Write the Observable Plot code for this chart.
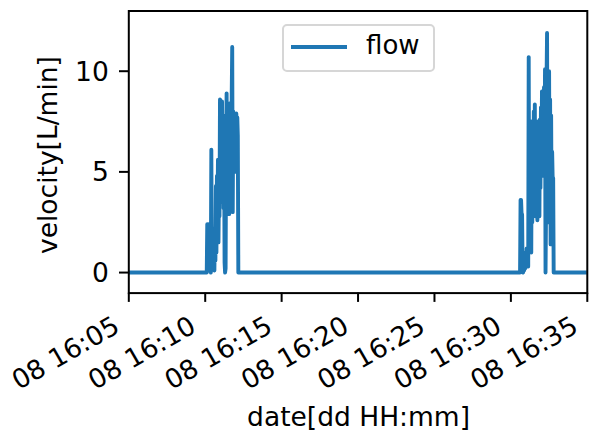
<!DOCTYPE html>
<html><head><meta charset="utf-8">
<script src="https://cdn.jsdelivr.net/npm/d3@7"></script>
<script src="https://cdn.jsdelivr.net/npm/@observablehq/plot@0.6"></script>
<style>
html,body{margin:0;padding:0;background:#fff;}
#wrap{position:relative;width:589px;height:432px;}
#legend{position:absolute;box-sizing:border-box;border:2px solid #d6d6d6;border-radius:5px;background:rgba(255,255,255,0.8);font-family:"DejaVu Sans";font-size:26px;color:#000;}
#legend .sw{position:absolute;height:4px;background:#1f77b4;}
#legend .lb{position:absolute;line-height:1;}
</style></head><body><div id="wrap"></div>
<script>
// sample times in seconds after 08 16:05:00, and flow values [L/min]
const startSeconds = [0];
const startValues = [0];
const burst1Seconds = [300,306,308,310,312,314,316,318,320,322,324,326,328,330,332,334,336,338,340,342,344,346,348,350,352,354,356,358,360,362,364,366,368,370,372,374,376,378,380,382,384,386,388,390,392,394,396,398,400,402,404,406,408,410,412,414,416,418,420,422,424,426,428,430,432];
const burst1Values = [0,0,2.4,0.3,2.4,0.2,0.1,0.2,0.1,0,6.1,0.2,0.4,0.2,0.8,0.3,0.1,2.2,0.6,4.3,1.0,4.8,2.5,5.6,1.5,4.2,2.8,8.6,3.5,7.2,5.0,8.5,4.0,7.8,3.2,6.5,0.5,0,0.2,6.0,8.9,3.0,8.2,4.5,7.5,2.9,8.4,5.5,7.0,3.2,8.8,11.2,3.0,8.0,5.5,7.9,6.0,7.6,5.0,7.9,7.2,7.7,6.8,0,0];
const burst2Seconds = [1530,1536,1538,1540,1542,1544,1546,1548,1550,1552,1554,1556,1558,1560,1562,1564,1566,1568,1570,1572,1574,1576,1578,1580,1582,1584,1586,1588,1590,1592,1594,1596,1598,1600,1602,1604,1606,1608,1610,1612,1614,1616,1618,1620,1622,1624,1626,1628,1630,1632,1634,1636,1638,1640,1642,1644,1646,1648,1650,1652,1654,1656,1658,1660,1662,1664,1666,1668,1670];
const burst2Values = [0,0,3.6,3.6,2.9,2.9,0.1,0,0.2,0.1,0.3,0.2,1.0,0.4,1.2,0.3,0.9,0.3,10.7,1.2,6.0,1.3,5.5,1.0,7.5,2.5,6.8,3.0,8.0,4.0,8.35,2.8,7.2,3.5,6.5,2.6,7.5,3.8,6.8,2.8,7.6,4.2,8.2,5.0,9.0,4.8,8.5,5.5,9.2,6.0,10.1,0,3.0,9.5,11.9,4.0,9.8,2.5,10.0,3.5,8.6,1.4,7.8,3.0,6.0,4.7,4.7,0,0];
const endSeconds = [1800];
const endValues = [0];
const xTickSeconds = [0,300,600,900,1200,1500,1800];
const yTicks = [0,5,10];
const seriesName = "flow";
const xLabel = "date[dd HH:mm]";
const yLabel = "velocity[L/min]";

const t0 = Date.UTC(2023, 4, 8, 16, 5, 0);
const toDate = s => new Date(t0 + s * 1000);
const secs = [...startSeconds, ...burst1Seconds, ...burst2Seconds, ...endSeconds];
const vals = [...startValues, ...burst1Values, ...burst2Values, ...endValues];
const rows = secs.map((s, i) => ({date: toDate(s), flow: vals[i]}));
const xTickDates = xTickSeconds.map(toDate);
const fmt = d3.utcFormat("%d %H:%M");

const W = 589, H = 432;
const mL = 128.3, mR = 2.2, mT = 10.5, mB = 139.4;
const font = "DejaVu Sans";
const fs = 26.5;

const chart = Plot.plot({
  width: W, height: H,
  marginLeft: mL, marginRight: mR, marginTop: mT, marginBottom: mB,
  style: {fontFamily: font, fontSize: fs + "px", background: "white", color: "black", overflow: "visible"},
  x: {type: "utc", domain: [toDate(0), toDate(1800)]},
  y: {domain: [-1.02, 12.99]},
  marks: [
    Plot.line(rows, {x: "date", y: "flow", stroke: "#1f77b4", strokeWidth: 3.9, strokeLinejoin: "round", strokeLinecap: "square", clip: true}),
    Plot.frame({stroke: "black", strokeWidth: 2}),
    Plot.axisX(xTickDates, {tickSize: 9.3, strokeWidth: 2, tickFormat: () => "", label: null}),
    Plot.axisY(yTicks, {tickSize: 9.3, strokeWidth: 2, tickFormat: () => "", label: null}),
    Plot.text(xTickDates, {x: d => d, text: d => fmt(d), frameAnchor: "bottom", textAnchor: "end", lineAnchor: "bottom", rotate: -30, dx: -7.5, dy: 38, fill: "black", fontSize: fs, fontFamily: font}),
    Plot.text(yTicks, {y: d => d, text: d => String(d), frameAnchor: "left", textAnchor: "end", lineAnchor: "middle", dx: -20, dy: 1, fill: "black", fontSize: fs, fontFamily: font}),
    Plot.text([yLabel], {text: d => d, frameAnchor: "left", rotate: -90, textAnchor: "middle", lineAnchor: "bottom", dx: 56 - mL, dy: 3, fill: "black", fontSize: fs, fontFamily: font}),
    Plot.text([xLabel], {text: d => d, frameAnchor: "bottom", textAnchor: "middle", lineAnchor: "bottom", dy: 425 - (H - mB), dx: 0.5, fill: "black", fontSize: fs, fontFamily: font})
  ]
});
const wrap = document.getElementById("wrap");
wrap.appendChild(chart);

// legend (upper center, inside axes)
const lg = document.createElement("div");
lg.id = "legend";
const frameCx = (mL + (W - mR)) / 2;
const lgW = 153, lgH = 48;
lg.style.left = (frameCx - lgW / 2 + 1) + "px";
lg.style.top = (mT + 13) + "px";
lg.style.width = lgW + "px";
lg.style.height = lgH + "px";
const sw = document.createElement("div");
sw.className = "sw";
sw.style.left = "7px"; sw.style.top = "19.5px"; sw.style.width = "56px";
const lb = document.createElement("div");
lb.className = "lb";
lb.textContent = seriesName;
lb.style.left = "82px"; lb.style.top = "6px";
lg.appendChild(sw); lg.appendChild(lb);
wrap.appendChild(lg);
</script></body></html>
